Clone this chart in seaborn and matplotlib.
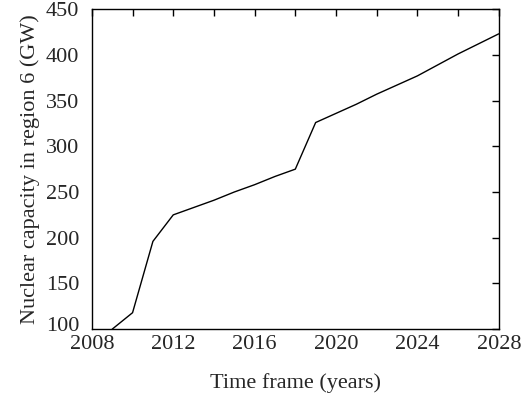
import matplotlib
matplotlib.use("Agg")
import matplotlib.pyplot as plt
import seaborn as sns
import pandas as pd
from matplotlib.ticker import MultipleLocator
from matplotlib.transforms import ScaledTranslation

years = [2009, 2010, 2011, 2012, 2013, 2014, 2015, 2016, 2017, 2018,
         2019, 2020, 2021, 2022, 2023, 2024, 2025, 2026, 2027, 2028]
capacity = [100, 118, 196, 225, 233, 241, 250, 258, 267, 275,
            326, 336, 346, 357, 367, 377, 389, 401, 412, 423]
x_ticklabels = ["2008", "2012", "2016", "2020", "2024", "2028"]
y_ticks = [100, 150, 200, 250, 300, 350, 400, 450]

df = pd.DataFrame({"year": years, "capacity": capacity})

sns.set_style("white")
plt.rcParams["font.family"] = ["Liberation Serif", "DejaVu Serif"]

fig, ax = plt.subplots(figsize=(5.25, 3.98), dpi=100)
sns.lineplot(data=df, x="year", y="capacity", ax=ax, color="black", linewidth=1.0)

ax.set_xlim(2008, 2028)
ax.set_ylim(100, 450)
ax.xaxis.set_minor_locator(MultipleLocator(2))
ax.set_xticks([int(t) for t in x_ticklabels])
ax.set_xticklabels(x_ticklabels)
ax.set_yticks(y_ticks)
ax.set_yticklabels([str(v) for v in y_ticks])

ax.tick_params(axis="both", which="both", direction="in", top=True, right=True,
               length=5, width=1, color="black", labelsize=16)
ax.tick_params(axis="x", which="major", pad=4)
ax.tick_params(axis="y", which="major", pad=9)

# nudge the lowest y label up slightly (as in the reference) so it clears 2008
lbl = ax.get_yticklabels()[0]
lbl.set_transform(lbl.get_transform() + ScaledTranslation(0, 4 / 72, fig.dpi_scale_trans))

for s in ax.spines.values():
    s.set_color("black")
    s.set_linewidth(1.0)

ax.set_xlabel("Time frame (years)", fontsize=16, labelpad=14)
ax.set_ylabel("Nuclear capacity in region 6 (GW)", fontsize=16, labelpad=4)

fig.subplots_adjust(left=0.175, right=0.95, top=0.977, bottom=0.173)
fig.savefig("out.png", dpi=100, facecolor="white")
